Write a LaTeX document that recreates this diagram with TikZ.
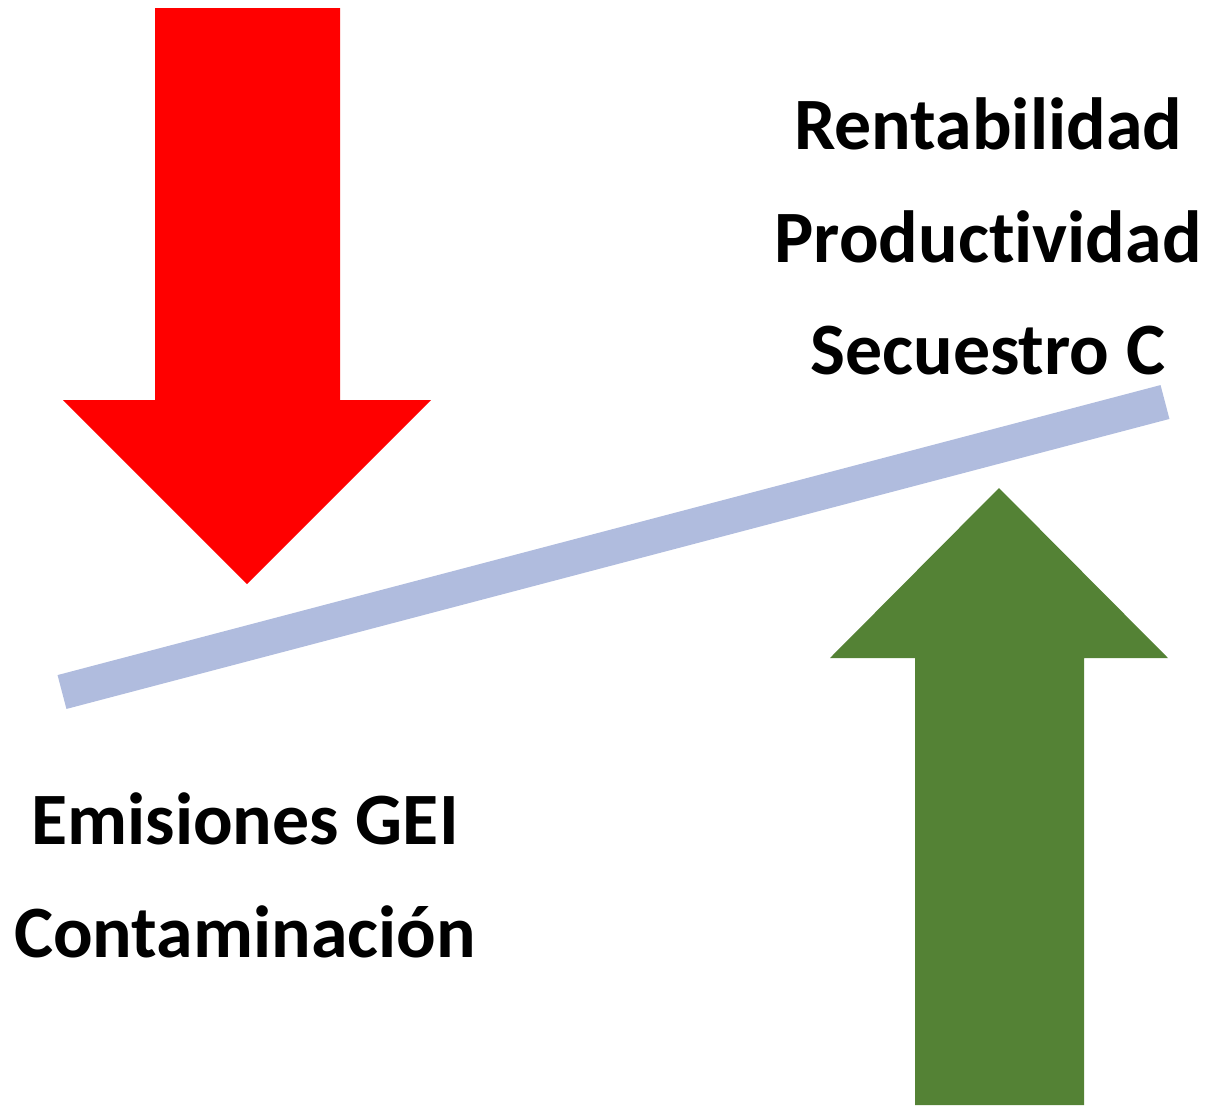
\documentclass[tikz,border=0pt]{standalone}
\usepackage{fontspec}
\setmainfont[Ligatures=NoCommon]{Carlito}
\usepackage{tikz}
\usepackage{xcolor}
\definecolor{flecharoja}{HTML}{FF0000}
\definecolor{flechaverde}{HTML}{548235}
\definecolor{balanza}{HTML}{B0BCDE}
\begin{document}
\begin{tikzpicture}[x=0.01cm,y=-0.01cm]
			\useasboundingbox (0,0) rectangle (1208,1105);
			\fill[flecharoja] (155,8) -- (340,8) -- (340,400) -- (431,400) -- (247,584) -- (63,400) -- (155,400) -- cycle;%baja
			\fill[flechaverde] (915,1105) -- (915,658) -- (830,658) -- (999,488) -- (1168,658) -- (1084,658) -- (1084,1105) -- cycle;%sube
			\coordinate (izq) at (62,692);
			\coordinate (der) at (1165,402);
			\draw[balanza,line width=0.35cm] (izq) -- (der);
			\tikzstyle{every node}=[font=\bfseries\fontsize{21}{25}\selectfont,inner sep=0pt]
			\node (rent) at (988,124) {Rentabilidad};
			\node (prod) at (988,237) {Productividad};
			\node (secu) at (988,351) {Secuestro C};
			\node (emis) at (245,819) {Emisiones GEI};
			\node (cont) at (245,932) {Contaminación};
		\end{tikzpicture}
\end{document}
